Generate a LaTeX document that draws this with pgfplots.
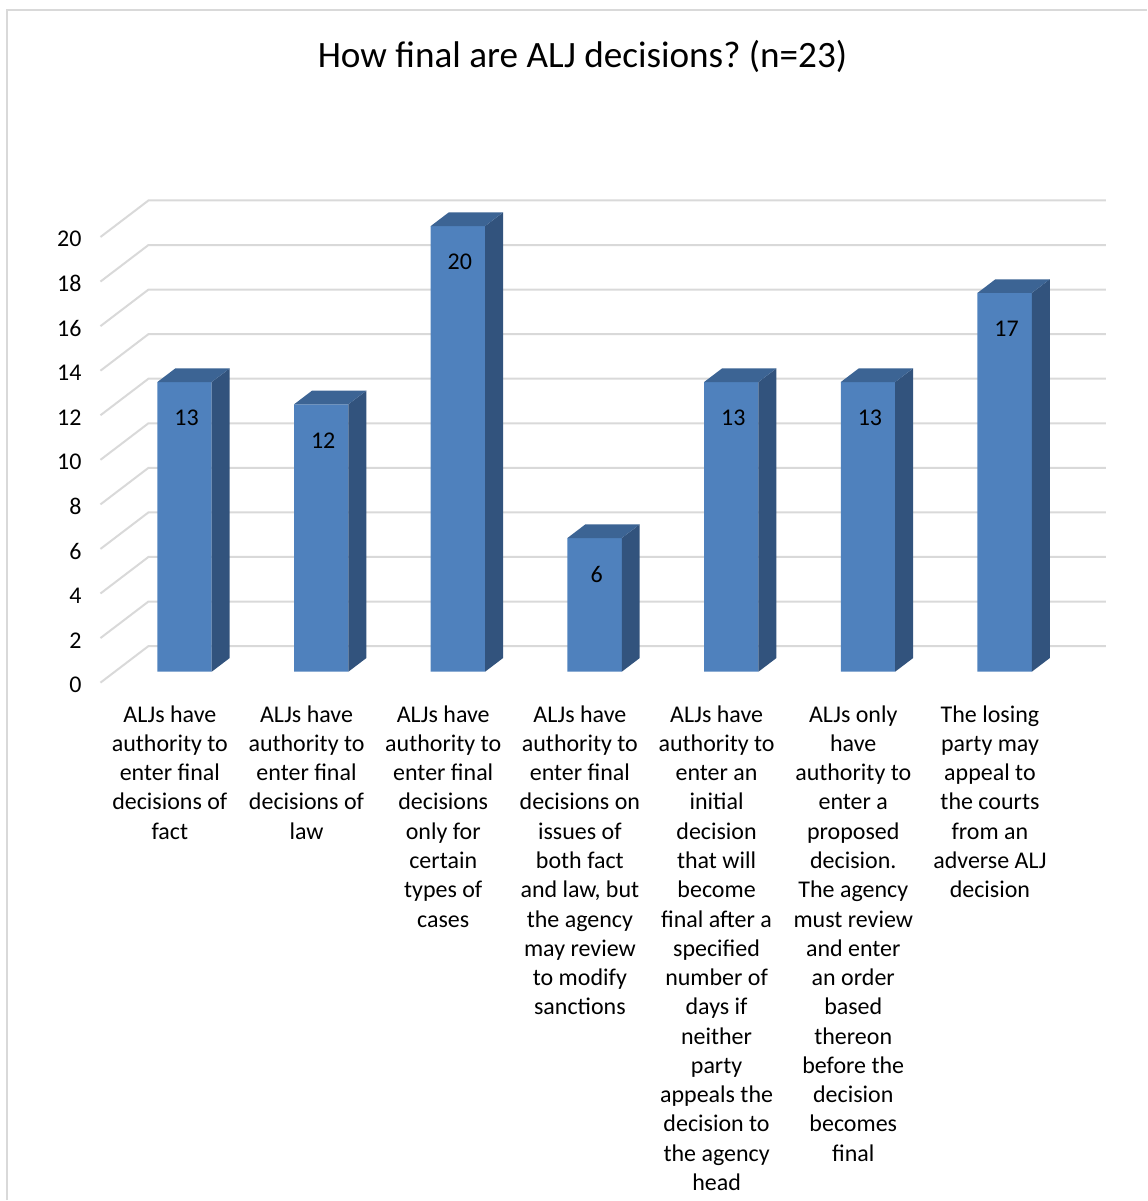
\documentclass[border=0pt]{standalone}
\usepackage{pgfplots}
\pgfplotsset{compat=1.18}
\usepackage{fontspec}
\setmainfont{Carlito}
\definecolor{barfront}{HTML}{4F81BD}
\definecolor{bartop}{HTML}{3C6494}
\definecolor{barside}{HTML}{32537D}
\definecolor{gridc}{HTML}{D9D9D9}
\pgfdeclareplotmark{bar3d}{%
  \pgfsetfillcolor{barside}%
  \pgfpathmoveto{\pgfpoint{13.6pt}{0pt}}%
  \pgfpathlineto{\pgfpoint{22.6pt}{6.85pt}}%
  \pgfpathlineto{\pgfpoint{22.6pt}{6.85pt-\myv*11.15pt}}%
  \pgfpathlineto{\pgfpoint{13.6pt}{-\myv*11.15pt}}%
  \pgfpathclose
  \pgfusepath{fill}%
  \pgfsetfillcolor{bartop}%
  \pgfpathmoveto{\pgfpoint{-13.6pt}{0pt}}%
  \pgfpathlineto{\pgfpoint{13.6pt}{0pt}}%
  \pgfpathlineto{\pgfpoint{22.6pt}{6.85pt}}%
  \pgfpathlineto{\pgfpoint{-4.6pt}{6.85pt}}%
  \pgfpathclose
  \pgfusepath{fill}%
}
\begin{document}
\frenchspacing
\begin{tikzpicture}
\begin{axis}[
  x=68.4pt, y=11.15pt,
  xmin=0.385, xmax=7.74, ymin=-0.49, ymax=21.6,
  clip=false,
  axis line style={draw=none},
  major tick length=0pt,
  ytick={0,2,...,20},
  xtick={1,...,7},
  xticklabels={
    {ALJs have\\authority to\\enter final\\decisions of\\fact},
    {ALJs have\\authority to\\enter final\\decisions of\\law},
    {ALJs have\\authority to\\enter final\\decisions\\only for\\certain\\types of\\cases},
    {ALJs have\\authority to\\enter final\\decisions on\\issues of\\both fact\\and law, but\\the agency\\may review\\to modify\\sanctions},
    {ALJs have\\authority to\\enter an\\initial\\decision\\that will\\become\\final after a\\specified\\number of\\days if\\neither\\party\\appeals the\\decision to\\the agency\\head},
    {ALJs only\\have\\authority to\\enter a\\proposed\\decision.\\The agency\\must review\\and enter\\an order\\based\\thereon\\before the\\decision\\becomes\\final},
    {The losing\\party may\\appeal to\\the courts\\from an\\adverse ALJ\\decision}
  },
  xticklabel style={align=center, anchor=north, font=\fontsize{12pt}{14.65pt}\selectfont, xshift=-7.35pt, yshift=-7.9pt},
  yticklabel style={anchor=east, inner sep=0pt, xshift=-9.3pt, yshift=-6.6pt, font=\fontsize{12pt}{14.65pt}\selectfont},
  /pgf/number format/assume math mode=true,
]
% gridlines (left wall diagonal + back wall)
\draw[gridc, line width=1pt] (axis cs:0.385,-0.49) -- (axis cs:0.736,1.15) -- (axis cs:7.74,1.15);
\draw[gridc, line width=1pt] (axis cs:0.385,1.51) -- (axis cs:0.736,3.15) -- (axis cs:7.74,3.15);
\draw[gridc, line width=1pt] (axis cs:0.385,3.51) -- (axis cs:0.736,5.15) -- (axis cs:7.74,5.15);
\draw[gridc, line width=1pt] (axis cs:0.385,5.51) -- (axis cs:0.736,7.15) -- (axis cs:7.74,7.15);
\draw[gridc, line width=1pt] (axis cs:0.385,7.51) -- (axis cs:0.736,9.15) -- (axis cs:7.74,9.15);
\draw[gridc, line width=1pt] (axis cs:0.385,9.51) -- (axis cs:0.736,11.15) -- (axis cs:7.74,11.15);
\draw[gridc, line width=1pt] (axis cs:0.385,11.51) -- (axis cs:0.736,13.15) -- (axis cs:7.74,13.15);
\draw[gridc, line width=1pt] (axis cs:0.385,13.51) -- (axis cs:0.736,15.15) -- (axis cs:7.74,15.15);
\draw[gridc, line width=1pt] (axis cs:0.385,15.51) -- (axis cs:0.736,17.15) -- (axis cs:7.74,17.15);
\draw[gridc, line width=1pt] (axis cs:0.385,17.51) -- (axis cs:0.736,19.15) -- (axis cs:7.74,19.15);
\draw[gridc, line width=1pt] (axis cs:0.385,19.51) -- (axis cs:0.736,21.15) -- (axis cs:7.74,21.15);
\addplot[ybar, bar width=0.398, fill=barfront, draw=none,
  mark=bar3d, visualization depends on={y \as \myv},
  nodes near coords,
  every node near coord/.append style={anchor=center, yshift=-18pt, xshift=1pt, text=black, font=\fontsize{12pt}{14.65pt}\selectfont}]
  coordinates {(1,13) (2,12) (3,20) (4,6) (5,13) (6,13) (7,17)};
\node[font=\fontsize{18.6pt}{22pt}\selectfont] at (axis cs:3.912,27.59) {How final are ALJ decisions? (n=23)};
\draw[gridc, line width=1pt] (axis cs:-0.299,-23.71) -- (axis cs:-0.299,29.70) -- (axis cs:8.041,29.70);
\path (axis cs:-0.350,-23.71) rectangle (axis cs:8.041,30.148);
\end{axis}
\end{tikzpicture}
\end{document}
